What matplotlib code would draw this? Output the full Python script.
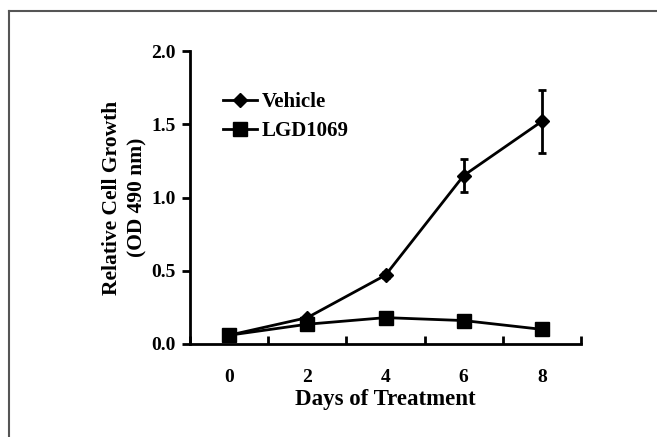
import matplotlib
matplotlib.use("Agg")
import matplotlib.pyplot as plt
from matplotlib.lines import Line2D

days = [0, 2, 4, 6, 8]
vehicle = [0.06, 0.18, 0.47, 1.15, 1.52]
vehicle_err = [0.0, 0.0, 0.02, 0.11, 0.215]
lgd = [0.06, 0.135, 0.18, 0.16, 0.10]
xtick_labels = ["0", "2", "4", "6", "8"]
yticks = [0.0, 0.5, 1.0, 1.5, 2.0]
series_names = ["Vehicle", "LGD1069"]

plt.rcParams['font.family'] = ['Liberation Serif', 'DejaVu Serif']
plt.rcParams['font.weight'] = 'bold'

fig = plt.figure(figsize=(6.57, 4.37), dpi=100)
ax = fig.add_axes([190/657, 1-344/437, (581-190)/657, (344-51)/437])

ax.errorbar(days, vehicle, yerr=vehicle_err, color='black', marker='D', markersize=7,
            linewidth=2, elinewidth=2, capsize=3, capthick=2, zorder=3)
ax.plot(days, lgd, color='black', marker='s', markersize=10.5, linewidth=2, zorder=3)

ax.set_xlim(-1, 9)
ax.set_ylim(0, 2.0)
ax.set_xticks([-1, 1, 3, 5, 7, 9])
ax.set_xticklabels([])
ax.set_xticks(days, minor=True)
ax.set_xticklabels(xtick_labels, minor=True)
ax.tick_params(axis='x', which='major', direction='in', length=6, width=2)
ax.tick_params(axis='x', which='minor', length=0, pad=18, labelsize=14)
ax.set_yticks(yticks)
ax.set_yticklabels([f"{v:.1f}" for v in yticks])
ax.tick_params(axis='y', direction='out', length=6, width=2, labelsize=14, pad=4)

for s in ['top', 'right']:
    ax.spines[s].set_visible(False)
for s in ['left', 'bottom']:
    ax.spines[s].set_linewidth(2)

ax.set_xlabel('Days of Treatment', fontsize=16.5, fontweight='bold', labelpad=2)
ax.set_ylabel('Relative Cell Growth\n(OD 490 nm)', fontsize=15.5, fontweight='bold',
              labelpad=3, linespacing=1.35)

handles = [Line2D([], [], color='black', marker='D', markersize=7, linewidth=2),
           Line2D([], [], color='black', marker='s', markersize=10.5, linewidth=2)]
ax.legend(handles, series_names, loc='upper left', bbox_to_anchor=(0.085, 0.86),
          frameon=False, fontsize=15, handlelength=1.6, handletextpad=0.25,
          labelspacing=0.45, borderaxespad=0, borderpad=0)

fig.add_artist(Line2D([9/657, 9/657], [0, 1-11/437], transform=fig.transFigure,
                      color='#555555', linewidth=1.5))
fig.add_artist(Line2D([9/657, 1], [1-11/437, 1-11/437], transform=fig.transFigure,
                      color='#555555', linewidth=1.5))

fig.savefig('out.png', dpi=100)
